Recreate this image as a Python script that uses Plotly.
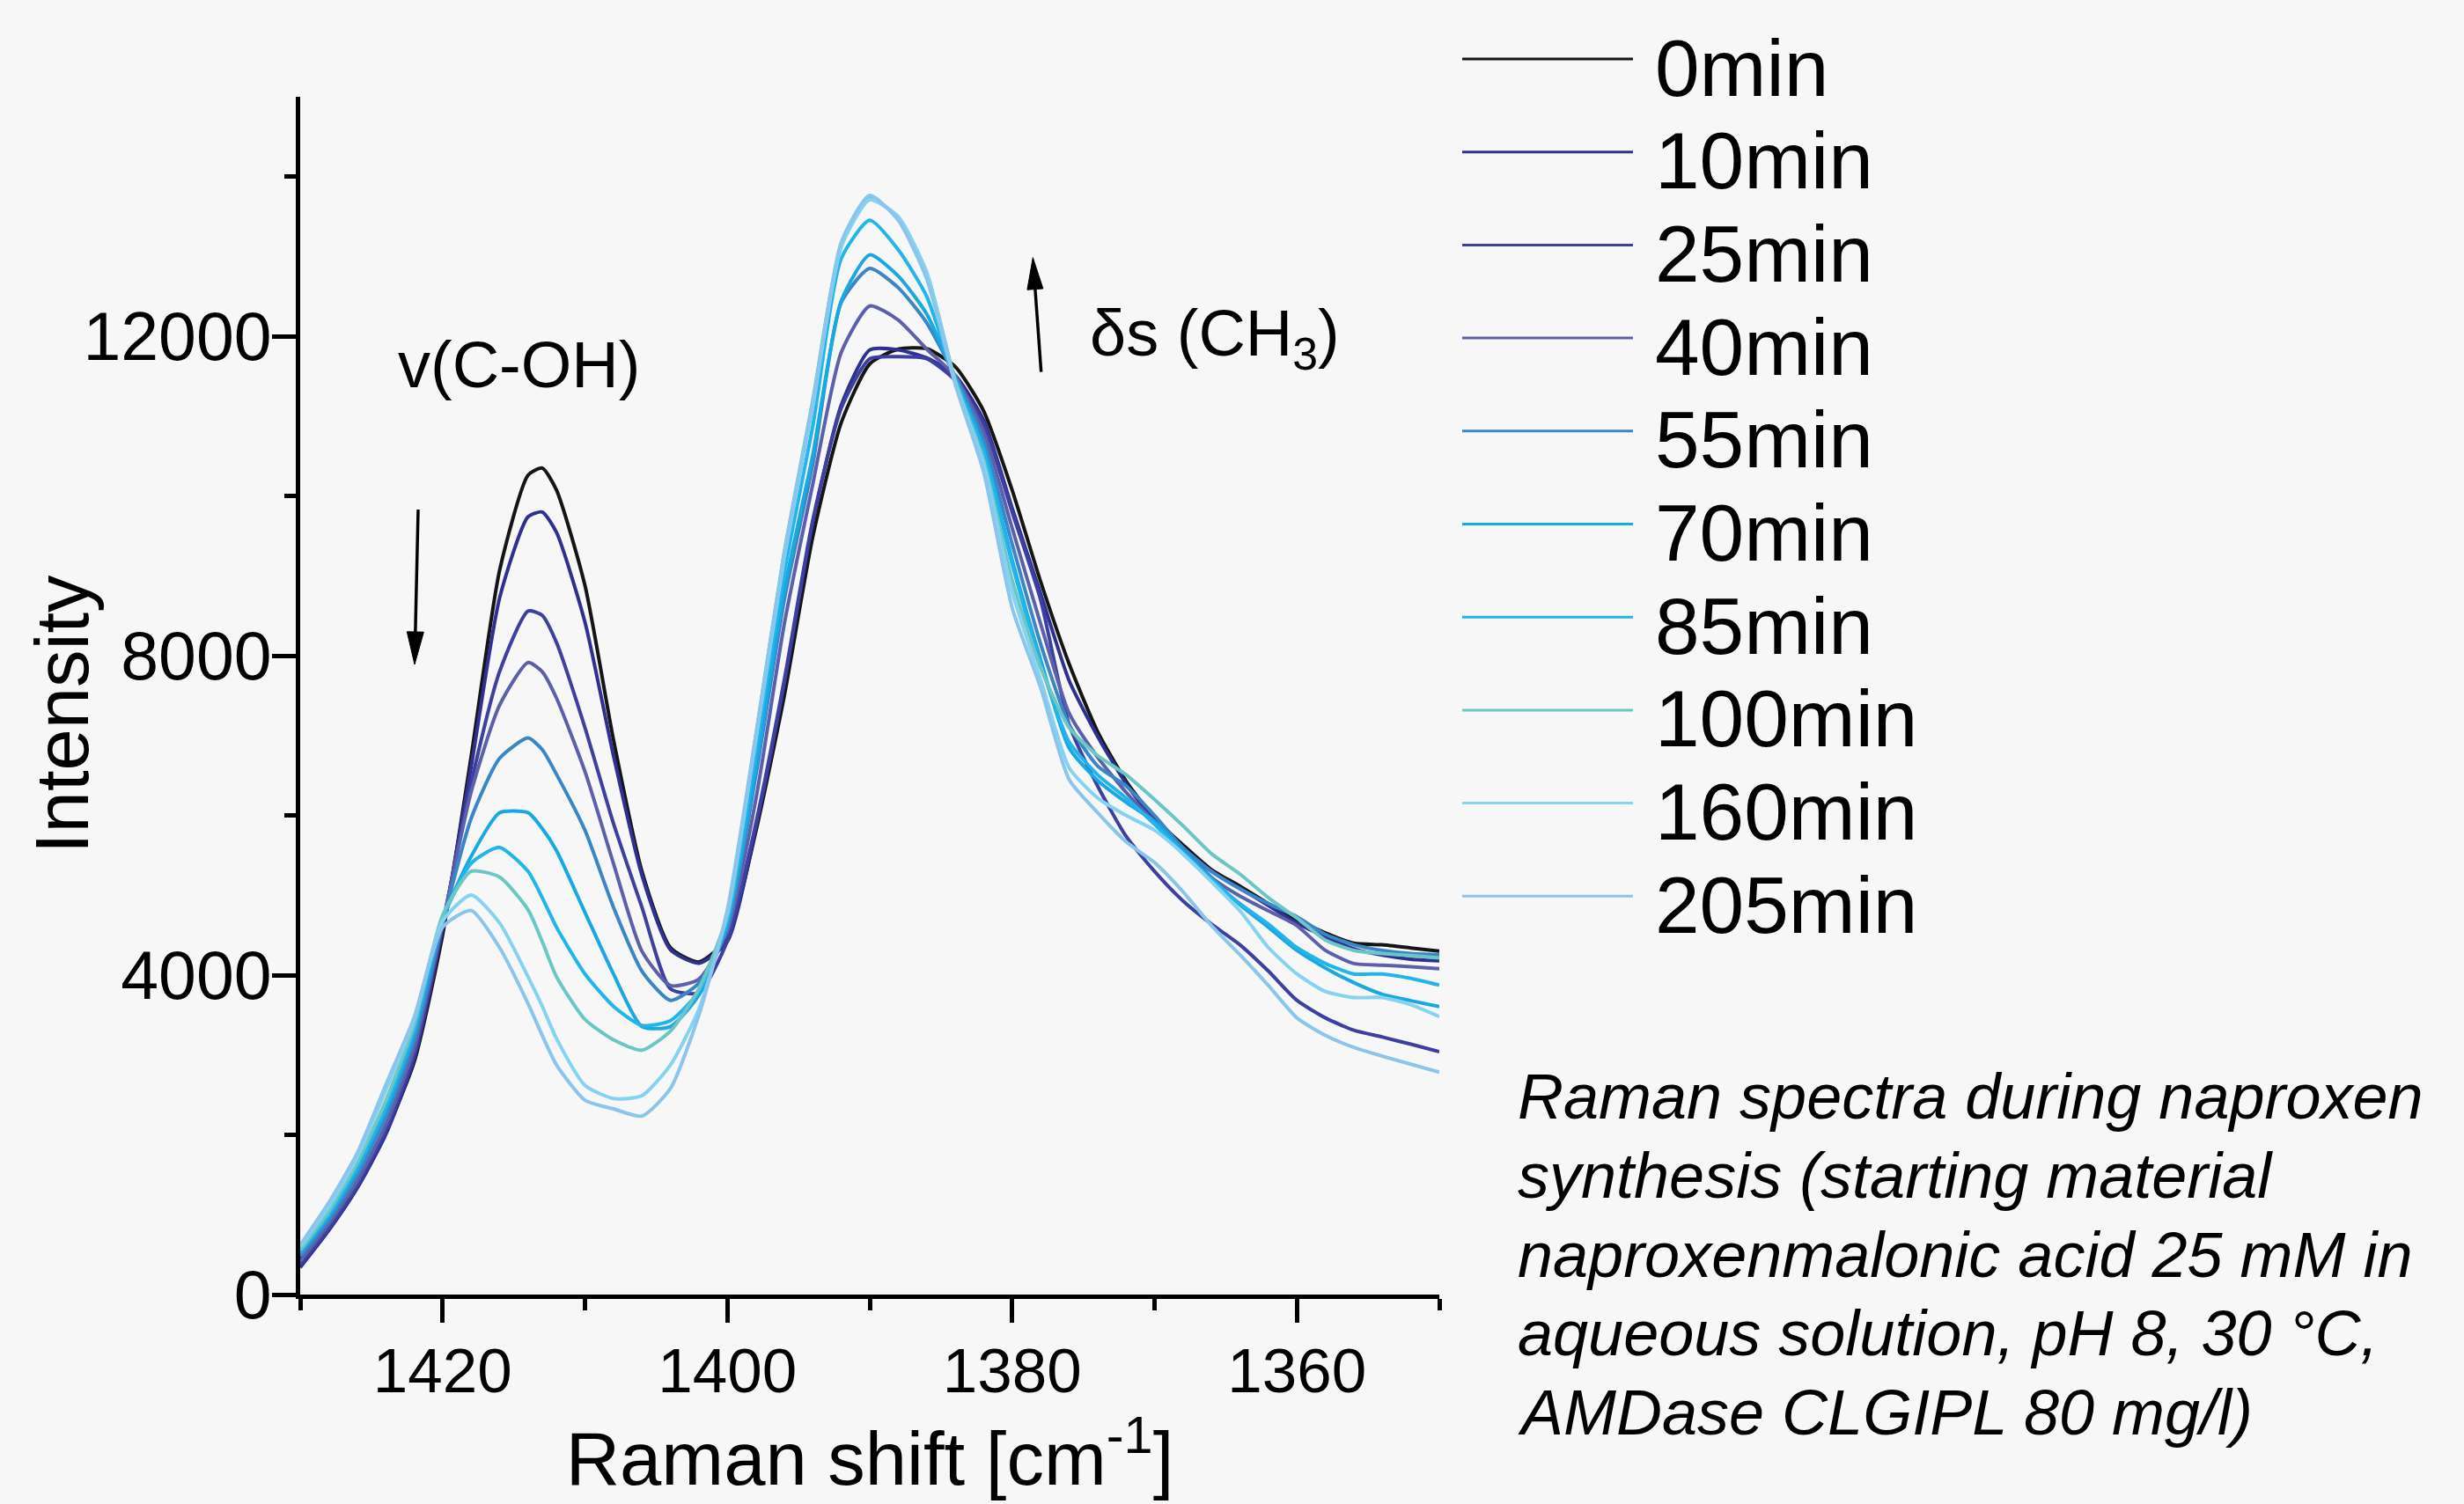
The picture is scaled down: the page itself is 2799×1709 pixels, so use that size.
import plotly.graph_objects as go

# ---------------- data ----------------
raman_shift = [1430, 1428, 1426, 1424, 1422, 1420, 1418, 1416, 1414, 1413, 1412, 1410, 1408, 1406,
               1404, 1402, 1400, 1398, 1396, 1394, 1392, 1390, 1388, 1386, 1384, 1382, 1380, 1378,
               1376, 1374, 1372, 1370, 1368, 1366, 1364, 1362, 1360, 1358, 1356, 1354, 1352, 1350]

series_names = ["0min", "10min", "25min", "40min", "55min", "70min", "85min", "100min", "160min", "205min"]
series_colors = ["#151515", "#2e3192", "#3d40a0", "#5c60ab", "#3b86c7", "#19a9e2", "#22b5ec",
                 "#6cc7c4", "#86d2f1", "#8cc5ec"]

int_0min = [450, 860, 1370, 2030, 2910, 4500, 6730, 9065, 10260, 10350, 10075, 8880, 6950, 5300,
            4345, 4165, 4460, 5800, 7500, 9490, 10920, 11655, 11840, 11845, 11620, 11065, 10075, 8930,
            7900, 7050, 6430, 5965, 5630, 5320, 5115, 4895, 4695, 4530, 4400, 4380, 4340, 4300]
int_10min = [340, 800, 1330, 2000, 2950, 4580, 6600, 8720, 9740, 9800, 9545, 8420, 6750, 5250,
             4320, 4150, 4420, 5850, 7650, 9670, 11140, 11830, 11830, 11730, 11510, 10950, 9850, 8780,
             7690, 6990, 6400, 5930, 5600, 5300, 5090, 4870, 4650, 4480, 4330, 4250, 4200, 4180]
int_25min = [380, 820, 1360, 2050, 3000, 4620, 6400, 7800, 8560, 8505, 8165, 7100, 5900, 4850,
             3830, 3780, 4430, 5900, 7700, 9700, 11100, 11720, 11745, 11720, 11450, 10900, 9800, 8700,
             7140, 6370, 5740, 5300, 4930, 4640, 4380, 4050, 3685, 3465, 3310, 3225, 3135, 3040]
int_40min = [420, 880, 1420, 2120, 3080, 4650, 6290, 7380, 7915, 7800, 7470, 6550, 5400, 4300,
             3870, 3950, 4550, 6200, 8400, 10150, 11800, 12380, 12205, 11840, 11500, 10800, 9600, 8400,
             7280, 6730, 6290, 5925, 5595, 5225, 4990, 4805, 4620, 4310, 4145, 4125, 4105, 4080]
int_55min = [480, 930, 1500, 2220, 3180, 4650, 5960, 6715, 6970, 6825, 6515, 5815, 4850, 4050,
             3685, 3900, 4600, 6500, 8700, 10400, 12425, 12850, 12610, 12170, 11500, 10700, 9400, 8150,
             7140, 6620, 6370, 6000, 5595, 5300, 5080, 4895, 4730, 4510, 4380, 4310, 4270, 4255]
int_70min = [520, 980, 1560, 2300, 3260, 4700, 5485, 6035, 6035, 5835, 5560, 4785, 4015, 3355,
             3355, 3750, 4650, 6600, 8825, 10515, 12445, 13020, 12755, 12280, 11480, 10600, 9200, 7950,
             6845, 6440, 6165, 5925, 5555, 5210, 4880, 4600, 4310, 4090, 3905, 3760, 3680, 3605]
int_85min = [540, 1000, 1600, 2350, 3320, 4700, 5400, 5600, 5300, 4970, 4600, 4015, 3610, 3370,
             3430, 3800, 4700, 6800, 9045, 10880, 12975, 13455, 13085, 12500, 11450, 10550, 9150, 7900,
             6920, 6510, 6220, 5890, 5520, 5190, 4895, 4640, 4345, 4145, 4015, 4015, 3960, 3875]
int_100min = [560, 1040, 1650, 2420, 3380, 4750, 5300, 5230, 4820, 4420, 3980, 3445, 3190, 3060,
              3300, 3830, 4750, 7000, 9300, 11200, 13150, 13730, 13480, 12800, 11450, 10450, 8950, 7850,
              7100, 6750, 6510, 6200, 5870, 5520, 5265, 4970, 4715, 4440, 4310, 4270, 4245, 4215]
int_160min = [600, 1100, 1720, 2550, 3450, 4675, 5005, 4655, 3980, 3610, 3205, 2620, 2455, 2490,
              2875, 3575, 4785, 6950, 9230, 11120, 13120, 13710, 13500, 12800, 11420, 10400, 8800, 7700,
              6600, 6220, 6000, 5815, 5520, 5170, 4805, 4345, 4015, 3795, 3720, 3720, 3630, 3480]
int_205min = [620, 1150, 1770, 2620, 3470, 4600, 4810, 4345, 3645, 3245, 2875, 2435, 2325, 2235,
              2580, 3500, 4820, 7010, 9290, 11160, 13180, 13765, 13455, 12720, 11400, 10300, 8600, 7600,
              6450, 6035, 5670, 5410, 5045, 4620, 4255, 3870, 3465, 3245, 3095, 2985, 2885, 2785]

intensities = [int_0min, int_10min, int_25min, int_40min, int_55min, int_70min, int_85min,
               int_100min, int_160min, int_205min]

x_tick_labels = ["1420", "1400", "1380", "1360"]
y_tick_labels = ["0", "4000", "8000", "12000"]

caption_lines = ["Raman spectra during naproxen",
                 "synthesis (starting material",
                 "naproxenmalonic acid 25 mM in",
                 "aqueous solution, pH 8, 30 °C,",
                 "AMDase CLGIPL 80 mg/l)"]

# ---------------- layout geometry (pixels) ----------------
W, H = 2799, 1709
ML, MR, MT, MB = 341, 1164, 110, 238
PW = W - ML - MR
PH = H - MT - MB
PLOT_BOTTOM = H - MB
FONT = '"Liberation Sans", Arial, sans-serif'


def fx(X):
    return (X - ML) / PW


def fy(Y):
    return (PLOT_BOTTOM - Y) / PH


fig = go.Figure()
for name, color, vals in zip(series_names, series_colors, intensities):
    fig.add_trace(go.Scatter(x=raman_shift, y=vals, mode="lines", name=name,
                             line=dict(color=color, width=4, shape="spline", smoothing=0.6),
                             showlegend=False))

shapes = []
annotations = []

# manual legend (long sample lines as in the original)
for i, (name, color) in enumerate(zip(series_names, series_colors)):
    Y = 67 + i * 105.7
    shapes.append(dict(type="line", xref="paper", yref="paper",
                       x0=fx(1661), x1=fx(1855), y0=fy(Y), y1=fy(Y),
                       line=dict(color=color, width=3)))
    annotations.append(dict(text=name, xref="paper", yref="paper", x=fx(1878), y=fy(Y + 10),
                            xanchor="left", yanchor="middle", showarrow=False,
                            font=dict(size=91, color="black", family=FONT)))


def arrow(tail, tip, head_len, head_half):
    (tx, ty), (hx, hy) = tail, tip
    dx, dy = hx - tx, hy - ty
    n = (dx * dx + dy * dy) ** 0.5
    ux, uy = dx / n, dy / n
    bx, by = hx - ux * head_len, hy - uy * head_len
    px_, py_ = -uy, ux
    shapes.append(dict(type="line", xref="paper", yref="paper",
                       x0=fx(tx), y0=fy(ty), x1=fx(bx + ux * 2), y1=fy(by + uy * 2),
                       line=dict(color="black", width=3.5)))
    p1 = (bx + px_ * head_half, by + py_ * head_half)
    p2 = (bx - px_ * head_half, by - py_ * head_half)
    path = "M {:.5f},{:.5f} L {:.5f},{:.5f} L {:.5f},{:.5f} Z".format(
        fx(hx), fy(hy), fx(p1[0]), fy(p1[1]), fx(p2[0]), fy(p2[1]))
    shapes.append(dict(type="path", xref="paper", yref="paper", path=path,
                       fillcolor="black", line=dict(color="black", width=1)))


arrow((475, 579), (471, 755), 37, 9.5)
arrow((1182.7, 422.7), (1173.3, 292.7), 36, 9)

annotations.append(dict(text="v(C-OH)", xref="paper", yref="paper", x=fx(450), y=fy(414),
                        xanchor="left", yanchor="middle", showarrow=False,
                        font=dict(size=74, color="black", family=FONT)))
annotations.append(dict(text="δs (CH<sub>3</sub>)", xref="paper", yref="paper", x=fx(1236), y=fy(384),
                        xanchor="left", yanchor="middle", showarrow=False,
                        font=dict(size=74, color="black", family=FONT)))

# y-axis title placed as in the original
annotations.append(dict(text="Intensity", xref="paper", yref="paper", x=fx(70), y=fy(812),
                        xanchor="center", yanchor="middle", textangle=-90, showarrow=False,
                        font=dict(size=85, color="black", family=FONT)))

for i, line in enumerate(caption_lines):
    Y = 1246 + i * 89.8
    annotations.append(dict(text="<i>" + line + "</i>", xref="paper", yref="paper",
                            x=fx(1722), y=fy(Y), xanchor="left", yanchor="middle",
                            showarrow=False, align="left",
                            font=dict(size=72, color="black", family=FONT)))

fig.update_layout(
    width=W, height=H,
    margin=dict(l=ML, r=MR, t=MT, b=MB, autoexpand=False),
    paper_bgcolor="#f7f7f7", plot_bgcolor="#f7f7f7",
    font=dict(family=FONT, color="black"),
    showlegend=False,
    shapes=shapes, annotations=annotations,
    xaxis=dict(range=[1430, 1350], showgrid=False, zeroline=False,
               showline=True, linecolor="black", linewidth=5,
               ticks="outside", ticklen=27, tickwidth=5, tickcolor="black",
               tickmode="array", tickvals=[int(t) for t in x_tick_labels], ticktext=x_tick_labels,
               tickfont=dict(size=71, color="black", family=FONT),
               ticklabelstandoff=-6,
               minor=dict(ticks="outside", ticklen=13, tickwidth=5, tickcolor="black",
                          dtick=10, tick0=1350, showgrid=False),
               title=dict(text="Raman shift [cm<sup>-1</sup>]", standoff=22,
                          font=dict(size=85, color="black", family=FONT))),
    yaxis=dict(range=[0, 15000], showgrid=False, zeroline=False,
               showline=True, linecolor="black", linewidth=5,
               ticks="outside", ticklen=27, tickwidth=5, tickcolor="black",
               tickmode="array", tickvals=[int(t) for t in y_tick_labels], ticktext=y_tick_labels,
               tickfont=dict(size=77, color="black", family=FONT),
               ticklabelstandoff=-15,
               minor=dict(ticks="outside", ticklen=13, tickwidth=5, tickcolor="black",
                          dtick=2000, tick0=0, showgrid=False)),
)

fig.write_html("out.html", config={"displayModeBar": False},
               post_script="document.body.style.margin='0';document.body.style.overflow='hidden';")
